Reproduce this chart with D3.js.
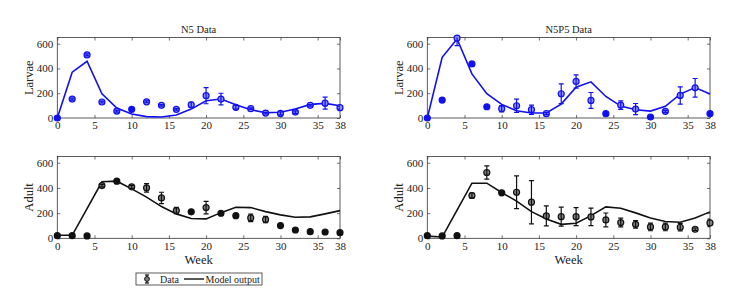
<!DOCTYPE html>
<html>
<head>
<meta charset="utf-8">
<script src="https://cdn.jsdelivr.net/npm/d3@7"></script>
<style>
  body { margin: 0; background: #fff; }
  svg text { font-family: "Liberation Serif", "Times New Roman", "DejaVu Serif", serif !important; fill: #222; }
</style>
</head>
<body>
<svg id="chart"></svg>
<script>
// Chart size
const width = 741;
const height = 301;

// Sampling weeks (x categories) and axis ticks
const weeks = [0, 2, 4, 6, 8, 10, 12, 14, 16, 18, 20, 22, 24, 26, 28, 30, 32, 34, 36, 38];
const xTicks = [0, 5, 10, 15, 20, 25, 30, 35, 38];
const yTicks = [0, 200, 400, 600];

// N5 larvae: observed mean, error, model output
const n5LarvaeMean = [0, 153, 509, 129, 56, 70, 131, 102, 70, 107, 180, 153, 86, 75, 40, 37, 48, 102, 120, 83];
const n5LarvaeErr = [0, 8, 8, 8, 8, 0, 8, 6, 6, 20, 65, 47, 15, 6, 6, 12, 10, 6, 48, 12];
const n5LarvaeModel = [0, 370, 458, 196, 80, 32, 11, 8, 24, 72, 139, 153, 107, 67, 43, 46, 72, 110, 118, 99];

// N5P5 larvae
const n5p5LarvaeMean = [0, 145, 645, 437, 91, 75, 99, 67, 35, 196, 295, 142, 35, 104, 72, 8, 54, 182, 244, 35];
const n5p5LarvaeErr = [0, 0, 60, 0, 0, 25, 54, 37, 8, 80, 53, 64, 0, 35, 45, 0, 8, 70, 75, 0];
const n5p5LarvaeModel = [0, 490, 638, 356, 196, 110, 59, 40, 40, 112, 249, 292, 174, 96, 67, 56, 94, 193, 246, 193];

// N5 adults
const n5AdultMean = [21, 21, 19, 419, 454, 409, 401, 321, 220, 210, 244, 199, 180, 162, 149, 101, 66, 53, 50, 45];
const n5AdultErr = [0, 0, 0, 10, 0, 12, 34, 45, 25, 0, 50, 0, 0, 30, 25, 0, 0, 0, 0, 0];
const n5AdultModel = [24, 24, 236, 449, 454, 393, 327, 252, 194, 157, 154, 204, 247, 244, 212, 186, 167, 170, 194, 220];

// N5P5 adults
const n5p5AdultMean = [21, 19, 21, 340, 523, 361, 366, 287, 178, 172, 172, 170, 146, 125, 111, 90, 90, 88, 72, 122];
const n5p5AdultErr = [0, 0, 0, 20, 53, 0, 130, 172, 80, 75, 72, 70, 55, 35, 30, 30, 30, 30, 10, 30];
const n5p5AdultModel = [17, 10, 224, 438, 438, 364, 295, 212, 154, 111, 119, 180, 250, 239, 202, 162, 133, 127, 162, 210];

const svg = d3.select("#chart").attr("width", width).attr("height", height);

const cols = [[57.3, 340], [427.3, 710]];
const rows = [[37.5, 118], [156.5, 238.3]];

const blue = { line: "#1010f0", fill: "#8c8cff" };
const black = { line: "#111", fill: "#808080" };

const panels = [
  { col: 0, row: 0, title: "N5 Data", ylabel: "Larvae", mean: n5LarvaeMean, err: n5LarvaeErr, model: n5LarvaeModel, c: blue },
  { col: 1, row: 0, title: "N5P5 Data", ylabel: "Larvae", mean: n5p5LarvaeMean, err: n5p5LarvaeErr, model: n5p5LarvaeModel, c: blue },
  { col: 0, row: 1, ylabel: "Adult", mean: n5AdultMean, err: n5AdultErr, model: n5AdultModel, c: black },
  { col: 1, row: 1, ylabel: "Adult", mean: n5p5AdultMean, err: n5p5AdultErr, model: n5p5AdultModel, c: black },
];

panels.forEach((p, i) => {
  const [x0, x1] = cols[p.col];
  const [y0, y1] = rows[p.row];
  const x = d3.scaleLinear().domain([0, 38]).range([x0, x1]);
  const y = d3.scaleLinear().domain([0, 650]).range([y1, y0]);
  const g = svg.append("g");

  // clip for error bars
  const clipId = "clip" + i;
  svg.append("clipPath").attr("id", clipId)
    .append("rect").attr("x", x0).attr("y", y0).attr("width", x1 - x0).attr("height", y1 - y0);

  // axes with inward ticks on all sides
  const styleAxis = (sel) => {
    sel.attr("font-family", null);
    sel.select(".domain").remove();
    sel.selectAll("line").attr("stroke", "#333").attr("stroke-width", 0.7);
    sel.selectAll("text").attr("font-size", 11).attr("fill", "#222");
  };
  g.append("g").attr("transform", `translate(0,${y1})`)
    .call(d3.axisBottom(x).tickValues(xTicks).tickSize(-3).tickPadding(3.5))
    .call(styleAxis);
  g.append("g").attr("transform", `translate(0,${y0})`)
    .call(d3.axisTop(x).tickValues(xTicks).tickSize(-3).tickFormat(""))
    .call(styleAxis);
  g.append("g").attr("transform", `translate(${x0},0)`)
    .call(d3.axisLeft(y).tickValues(yTicks).tickSize(-3).tickPadding(4))
    .call(styleAxis);
  g.append("g").attr("transform", `translate(${x1},0)`)
    .call(d3.axisRight(y).tickValues(yTicks).tickSize(-3).tickFormat(""))
    .call(styleAxis);

  g.append("rect")
    .attr("x", x0).attr("y", y0).attr("width", x1 - x0).attr("height", y1 - y0)
    .attr("fill", "none").attr("stroke", "#333").attr("stroke-width", 0.8);

  // model line
  g.append("path")
    .datum(weeks.map((w, k) => [w, p.model[k]]))
    .attr("d", d3.line().x((d) => x(d[0])).y((d) => y(d[1])))
    .attr("fill", "none")
    .attr("stroke", p.c.line)
    .attr("stroke-width", 1.6);

  const pts = weeks.map((w, k) => ({ w, m: p.mean[k], e: p.err[k] }));

  // markers
  g.selectAll(".pt").data(pts).enter().append("circle")
    .attr("cx", (d) => x(d.w)).attr("cy", (d) => y(d.m)).attr("r", 3)
    .attr("fill", (d) => (d.e === 0 ? p.c.line : p.c.fill))
    .attr("stroke", p.c.line).attr("stroke-width", 1.2);

  // error bars
  const eb = g.append("g").attr("clip-path", `url(#${clipId})`)
    .selectAll("g").data(pts.filter((d) => d.e > 0)).enter().append("g")
    .attr("stroke", p.c.line).attr("stroke-width", 1.2);
  eb.append("line")
    .attr("x1", (d) => x(d.w)).attr("x2", (d) => x(d.w))
    .attr("y1", (d) => y(d.m - d.e)).attr("y2", (d) => y(d.m + d.e));
  [1, -1].forEach((s) => {
    eb.append("line")
      .attr("x1", (d) => x(d.w) - 2.5).attr("x2", (d) => x(d.w) + 2.5)
      .attr("y1", (d) => y(d.m + s * d.e)).attr("y2", (d) => y(d.m + s * d.e));
  });

  // titles and labels
  if (p.title) {
    g.append("text").attr("x", (x0 + x1) / 2).attr("y", 32.5)
      .attr("text-anchor", "middle").attr("font-size", 10.5).text(p.title);
  }
  g.append("text")
    .attr("transform", `translate(${x0 - 24},${(y0 + y1) / 2}) rotate(-90)`)
    .attr("text-anchor", "middle").attr("font-size", 12.5).text(p.ylabel);
  if (p.row === 1) {
    g.append("text").attr("x", (x0 + x1) / 2).attr("y", 264)
      .attr("text-anchor", "middle").attr("font-size", 12.5).text("Week");
  }
});

// legend
const lg = svg.append("g");
lg.append("rect").attr("x", 136).attr("y", 273).attr("width", 126).attr("height", 12)
  .attr("fill", "#fff").attr("stroke", "#333").attr("stroke-width", 0.8);
lg.append("line").attr("x1", 147).attr("x2", 147).attr("y1", 275).attr("y2", 283)
  .attr("stroke", "#111").attr("stroke-width", 1.2);
[275, 283].forEach((yy) => lg.append("line").attr("x1", 145).attr("x2", 149).attr("y1", yy).attr("y2", yy)
  .attr("stroke", "#111").attr("stroke-width", 1.2));
lg.append("circle").attr("cx", 147).attr("cy", 279).attr("r", 2.4)
  .attr("fill", "#808080").attr("stroke", "#111").attr("stroke-width", 1);
lg.append("text").attr("x", 160).attr("y", 282.5).attr("font-size", 10).text("Data");
lg.append("line").attr("x1", 184).attr("x2", 204).attr("y1", 279).attr("y2", 279)
  .attr("stroke", "#111").attr("stroke-width", 1.4);
lg.append("text").attr("x", 205.5).attr("y", 282.5).attr("font-size", 10).text("Model output");
</script>
</body>
</html>
